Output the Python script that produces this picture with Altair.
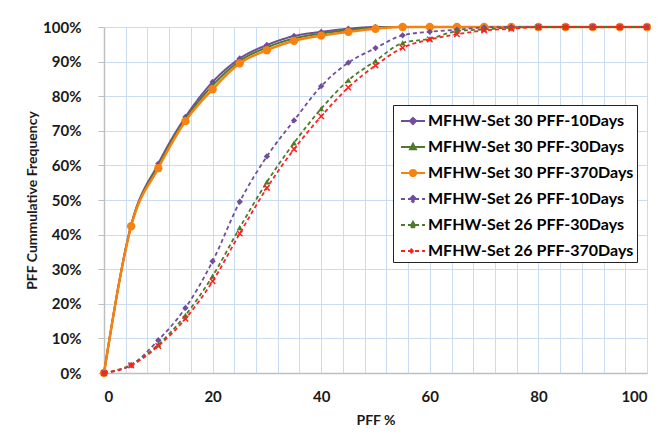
import altair as alt
import pandas as pd

pff = list(range(0, 101, 5))

series_names = [
    "MFHW-Set 30 PFF-10Days",
    "MFHW-Set 30 PFF-30Days",
    "MFHW-Set 30 PFF-370Days",
    "MFHW-Set 26 PFF-10Days",
    "MFHW-Set 26 PFF-30Days",
    "MFHW-Set 26 PFF-370Days",
]

set30_10d = [0, 42.8, 60.5, 74.0, 84.1, 90.9, 94.8, 97.4, 98.6, 99.5, 100, 100, 100, 100, 100, 100, 100, 100, 100, 100, 100]
set30_30d = [0, 42.6, 59.9, 73.4, 83.1, 90.2, 94.1, 96.7, 98.1, 99.1, 99.8, 100, 100, 100, 100, 100, 100, 100, 100, 100, 100]
set30_370d = [0, 42.4, 59.2, 72.8, 82.0, 89.5, 93.3, 96.0, 97.5, 98.6, 99.5, 100, 100, 100, 100, 100, 100, 100, 100, 100, 100]
set26_10d = [0, 2.3, 9.5, 18.8, 32.3, 49.5, 62.6, 73.0, 82.9, 89.7, 93.9, 97.6, 98.6, 99.2, 99.9, 100, 100, 100, 100, 100, 100]
set26_30d = [0, 2.4, 8.2, 16.7, 28.0, 42.0, 55.2, 66.5, 76.4, 84.6, 90.2, 95.4, 96.6, 98.8, 99.3, 99.8, 100, 100, 100, 100, 100]
set26_370d = [0, 2.2, 7.8, 15.7, 26.5, 40.3, 53.5, 64.7, 74.2, 82.5, 88.9, 94.0, 96.4, 97.9, 99.0, 99.5, 100, 100, 100, 100, 100]

all_values = [set30_10d, set30_30d, set30_370d, set26_10d, set26_30d, set26_370d]

colors = ["#6F4E9E", "#4E7A2A", "#F7820F", "#6F4E9E", "#4E7A2A", "#FF2020"]
line_widths = [2, 2, 2.5, 1.8, 1.8, 1.8]
dashes = [[1, 0], [1, 0], [1, 0], [4, 3], [4, 3], [4, 3]]
point_shapes = ["diamond", "triangle-up", "circle", "diamond", "triangle-up",
                "M-1,-1L1,1M-1,1L1,-1"]
point_sizes = [40, 35, 70, 40, 35, 30]
point_filled = [True, True, True, True, True, False]

legend_paths = [
    "M-1,0H1M0,-0.26L0.26,0L0,0.26L-0.26,0Z",
    "M-1,0H1M0,-0.26L0.24,0.18L-0.24,0.18Z",
    "M-1,0H1M-0.26,0A0.26,0.26,0,1,0,0.26,0A0.26,0.26,0,1,0,-0.26,0Z",
    "M-1,0H1M0,-0.26L0.26,0L0,0.26L-0.26,0Z",
    "M-1,0H1M0,-0.26L0.24,0.18L-0.24,0.18Z",
    "M-1,0H1M-0.2,-0.2L0.2,0.2M-0.2,0.2L0.2,-0.2",
]

rows = []
for name, vals in zip(series_names, all_values):
    for x, v in zip(pff, vals):
        rows.append({"series": name, "pff": x, "freq": v / 100.0})
df = pd.DataFrame(rows)

x_enc = alt.X(
    "pff:Q",
    scale=alt.Scale(domain=[0, 100], nice=False),
    axis=alt.Axis(
        values=list(range(0, 101, 4)),
        labelExpr="datum.value % 20 == 0 ? datum.label : ''",
        title="PFF %",
        ticks=False,
        labelPadding=16,
        titlePadding=9,
    ),
)
y_enc = alt.Y(
    "freq:Q",
    scale=alt.Scale(domain=[0, 1], nice=False),
    axis=alt.Axis(
        values=[i / 10 for i in range(11)],
        format=".0%",
        title="PFF Cummulative Frequency",
        tickSize=6,
        labelPadding=17,
        titlePadding=3,
    ),
)

base = alt.Chart(df)
layers = []
for i, name in enumerate(series_names):
    sub = base.transform_filter(alt.datum.series == name)
    line = sub.mark_line(
        interpolate="monotone", strokeWidth=line_widths[i], strokeDash=dashes[i],
        color=colors[i],
    ).encode(x=x_enc, y=y_enc)
    pts = sub.mark_point(
        shape=point_shapes[i], filled=point_filled[i], size=point_sizes[i],
        opacity=1, strokeWidth=1.5, color=colors[i],
    ).encode(x=x_enc, y=y_enc)
    layers += [line, pts]

legend_def = alt.Legend(
    title=None, orient="none", legendX=289, legendY=78,
    symbolSize=576, symbolStrokeWidth=2, symbolOpacity=1, symbolOffset=4,
    labelFont="Lato", labelFontSize=16, labelFontWeight="bold", labelColor="black",
    padding=3, rowPadding=5, strokeColor="#222222", fillColor="white",
    labelOffset=2, labelLimit=400,
)
legend_layer = base.mark_point(filled=True, opacity=0, size=0).encode(
    x=x_enc, y=y_enc,
    fill=alt.Fill("series:N", scale=alt.Scale(domain=series_names, range=colors), legend=legend_def),
    stroke=alt.Stroke("series:N", scale=alt.Scale(domain=series_names, range=colors), legend=legend_def),
    shape=alt.Shape("series:N", scale=alt.Scale(domain=series_names, range=legend_paths), legend=legend_def),
    strokeDash=alt.StrokeDash("series:N", scale=alt.Scale(domain=series_names, range=dashes), legend=legend_def),
)
layers.append(legend_layer)

chart = alt.layer(*layers).properties(
    width=543, height=346,
    autosize=alt.AutoSizeParams(type="none"),
    padding={"left": 96, "top": 19, "right": 4, "bottom": 64},
).configure_view(
    stroke=None
).configure_axis(
    labelFont="Lato", labelFontSize=15, labelFontWeight="bold", labelColor="#1a1a1a",
    titleFont="Lato", titleFontSize=14, titleFontWeight="bold", titleColor="#1a1a1a",
    gridColor="#C9DCF2", gridWidth=1,
    domainColor="#BFBFBF", domainWidth=1.5, tickColor="#BFBFBF",
)

chart.save("out.html", embed_options={"renderer": "svg", "actions": False})
